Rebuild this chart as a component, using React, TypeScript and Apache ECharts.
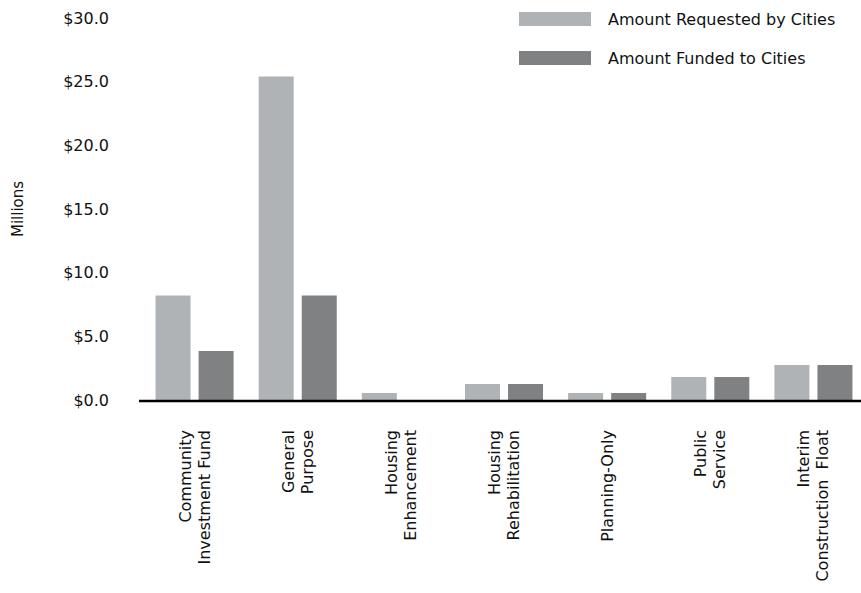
import React, { useEffect, useRef } from "react";
import * as echarts from "echarts";

const categories = [
  "Community\nInvestment Fund",
  "General\nPurpose",
  "Housing\nEnhancement",
  "Housing\nRehabilitation",
  "Planning-Only",
  "Public\nService",
  "Interim\nConstruction  Float",
];
const requested = [8.2, 25.4, 0.55, 1.25, 0.55, 1.8, 2.75];
const funded = [3.85, 8.2, 0, 1.25, 0.55, 1.8, 2.75];
const seriesNames = ["Amount Requested by Cities", "Amount Funded to Cities"];

const FONT = "DejaVu Sans";
const TEXT = "#111";
const GRID_LEFT = 143;
const CHART_W = 866;

export default function App() {
  const ref = useRef<HTMLDivElement>(null);
  useEffect(() => {
    if (!ref.current) return;
    const chart = echarts.init(ref.current, undefined, { renderer: "svg" });
    chart.setOption({
      animation: false,
      textStyle: { fontFamily: FONT, color: TEXT },
      legend: {
        orient: "vertical",
        left: 519,
        top: 11,
        padding: 0,
        itemWidth: 72,
        itemHeight: 14,
        itemGap: 23,
        icon: "rect",
        textStyle: { fontFamily: FONT, fontSize: 16, color: TEXT, padding: [0, 0, 0, 12] },
        data: seriesNames,
      },
      // the plot runs a few pixels past the right edge of the visible page
      grid: { left: GRID_LEFT, right: 1, top: 18, bottom: 193, containLabel: false },
      xAxis: {
        type: "category",
        data: categories,
        axisLine: { show: false },
        axisTick: { show: false },
        axisLabel: {
          rotate: 90,
          interval: 0,
          margin: 30,
          fontFamily: FONT,
          fontSize: 16,
          lineHeight: 19,
          color: TEXT,
        },
      },
      yAxis: {
        type: "value",
        min: 0,
        max: 30,
        interval: 5,
        name: "Millions",
        nameLocation: "middle",
        nameGap: 118,
        nameTextStyle: { fontFamily: FONT, fontSize: 15, color: TEXT },
        axisLine: { show: false },
        axisTick: { show: false },
        splitLine: { show: false },
        axisLabel: {
          margin: 34,
          fontFamily: FONT,
          fontSize: 16,
          color: TEXT,
          formatter: (v: number) => "$" + v.toFixed(1),
        },
      },
      series: [
        {
          name: seriesNames[0],
          type: "bar",
          data: requested,
          barWidth: 35,
          barGap: "23%",
          itemStyle: { color: "#B0B3B6" },
        },
        {
          name: seriesNames[1],
          type: "bar",
          data: funded,
          barWidth: 35,
          itemStyle: { color: "#808183" },
        },
      ],
    });
    // baseline at zero, overhanging slightly left of the first category
    const y0 = chart.convertToPixel({ yAxisIndex: 0 }, 0) as number;
    chart.setOption({
      graphic: [
        {
          type: "line",
          z: 10,
          shape: { x1: GRID_LEFT - 4, y1: y0 + 1, x2: CHART_W, y2: y0 + 1 },
          style: { stroke: "#000", lineWidth: 2.5 },
        },
      ],
    });
    return () => chart.dispose();
  }, []);
  return (
    <div
      ref={ref}
      style={{ position: "fixed", left: 0, top: 0, width: CHART_W, height: 593, background: "#fff" }}
    />
  );
}
